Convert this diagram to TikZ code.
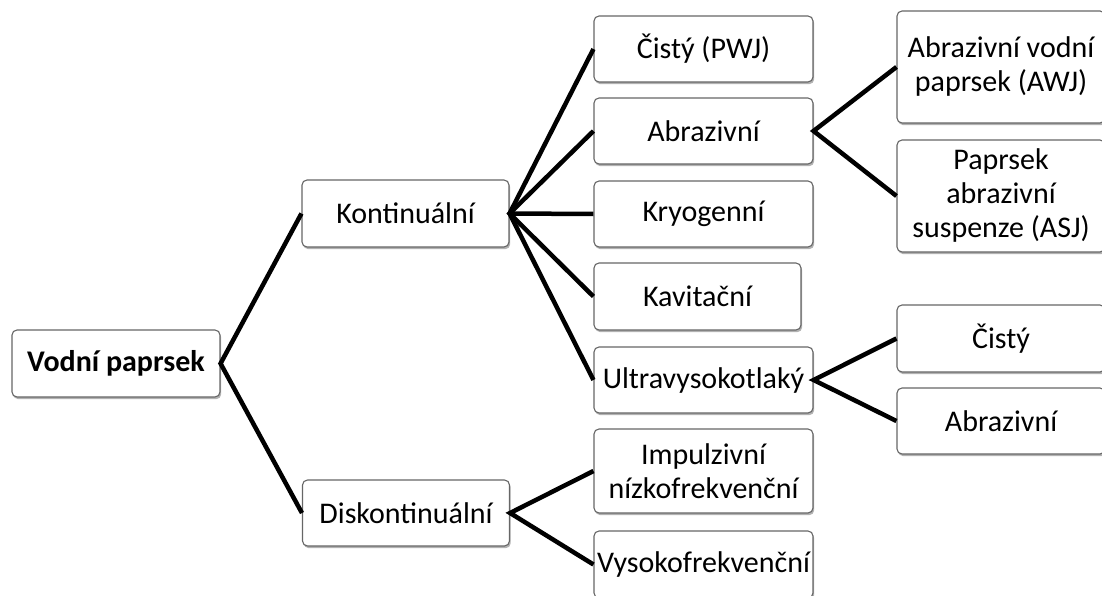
\documentclass[tikz,border=0pt]{standalone}
\usepackage{fontspec}
\setmainfont{Carlito}
\usetikzlibrary{shadows}
\begin{document}
\begin{tikzpicture}[x=1pt,y=-1pt,
  box/.style={draw=black!60, line width=1.1pt, fill=white, rounded corners=5pt,
    inner sep=0pt, align=center, font=\fontsize{30}{34}\selectfont,
    drop shadow={shadow xshift=1.2pt, shadow yshift=-2.2pt, fill=black, opacity=0.3}},
  link/.style={line width=4.5pt, black, line join=miter}]
\useasboundingbox (0,0) rectangle (1102,596);
\node[box, minimum width=208pt, minimum height=67pt, font=\fontsize{30}{34}\selectfont\bfseries] (vp) at (116,363.5) {Vodní paprsek};
\node[box, minimum width=207pt, minimum height=67pt] (kon) at (405.5,213.5) {Kontinuální};
\node[box, minimum width=207pt, minimum height=66pt] (dis) at (406,513) {Diskontinuální};
\node[box, minimum width=219pt, minimum height=66pt] (cis1) at (703.5,49) {Čistý (PWJ)};
\node[box, minimum width=219pt, minimum height=66pt] (abr1) at (703.5,131) {Abrazivní};
\node[box, minimum width=219pt, minimum height=66pt] (kry) at (703.5,214) {Kryogenní};
\node[box, minimum width=207pt, minimum height=67pt] (kav) at (697.5,296.5) {Kavitační};
\node[box, minimum width=219pt, minimum height=66pt] (ult) at (703.5,380) {Ultravysokotlaký};
\node[box, minimum width=219pt, minimum height=84pt] (imp) at (703.5,471) {Impulzivní\\nízkofrekvenční};
\node[box, minimum width=219pt, minimum height=67pt] (vys) at (703.5,564.5) {Vysokofrekvenční};
\node[box, minimum width=208pt, minimum height=112pt] (awj) at (1001,67) {Abrazivní vodní\\paprsek (AWJ)};
\node[box, minimum width=208pt, minimum height=112pt] (asj) at (1001,196) {Paprsek\\abrazivní\\suspenze (ASJ)};
\node[box, minimum width=208pt, minimum height=67pt] (cis2) at (1001,338.5) {Čistý};
\node[box, minimum width=208pt, minimum height=66pt] (abr2) at (1001,421) {Abrazivní};
\draw[link] (kon.west) -- (vp.east) -- (dis.west);
\draw[link] (cis1.west) -- (kon.east) -- (ult.west);
\draw[link] (abr1.west) -- (kon.east) -- (kav.west);
\draw[link] (kry.west) -- (kon.east);
\draw[link] (imp.west) -- (dis.east) -- (vys.west);
\draw[link] (awj.west) -- (abr1.east) -- (asj.west);
\draw[link] (cis2.west) -- (ult.east) -- (abr2.west);
\end{tikzpicture}
\end{document}
